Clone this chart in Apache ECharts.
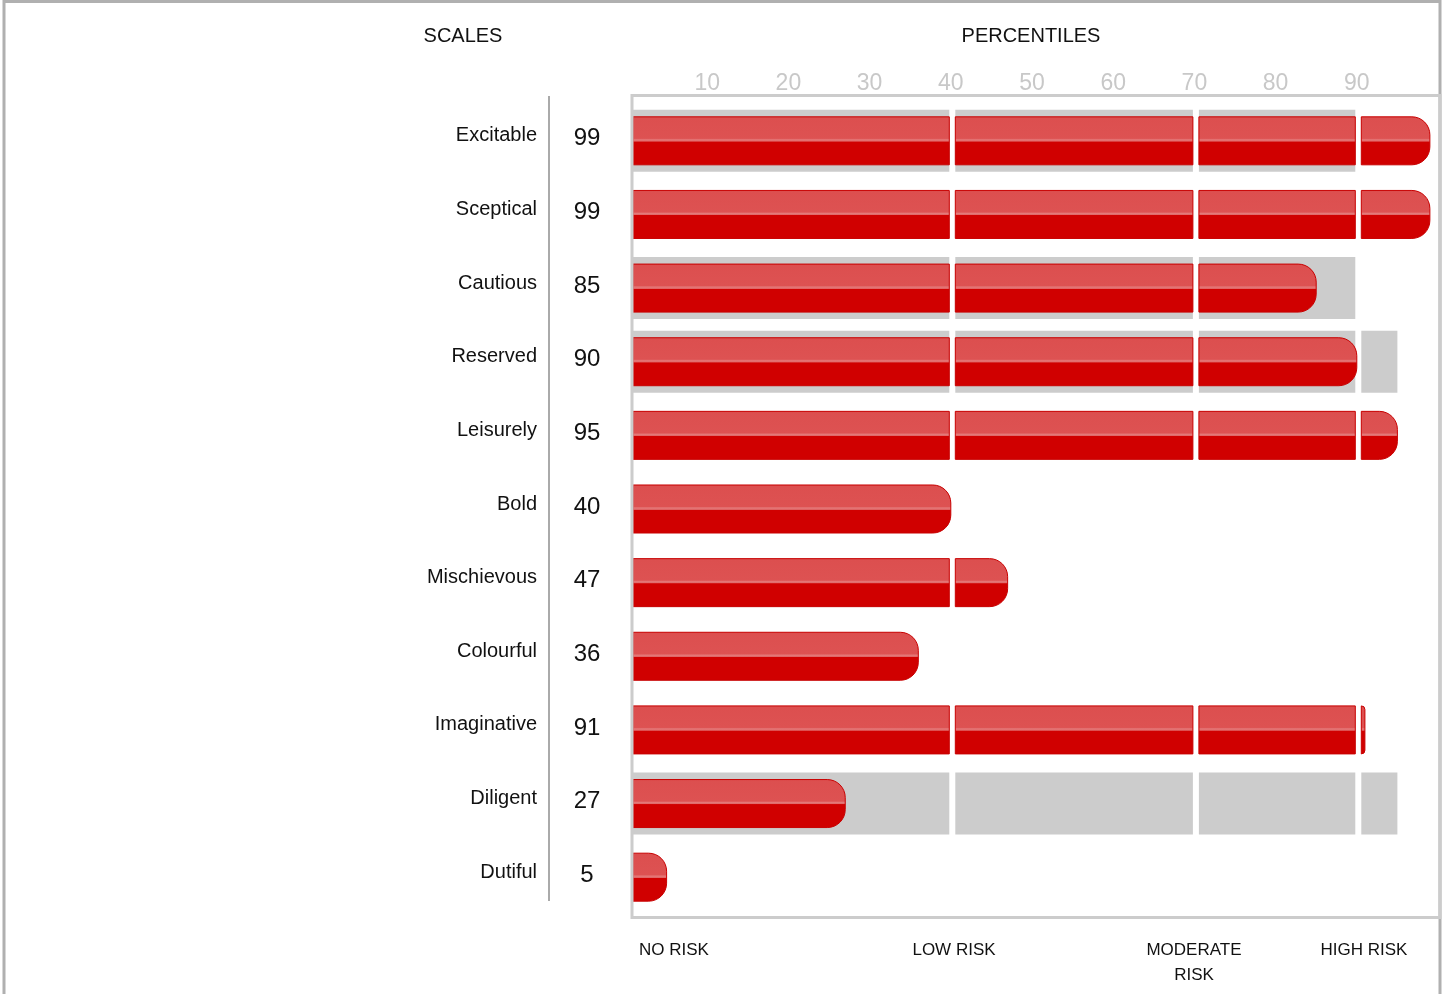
<!DOCTYPE html>
<html>
<head>
<meta charset="utf-8">
<script src="https://cdn.jsdelivr.net/npm/echarts@6/dist/echarts.min.js"></script>
<style>html,body{margin:0;padding:0;background:#fff;}#c{width:1445px;height:994px;}</style>
</head>
<body>
<div id="c"></div>
<script>
const scales = ['Excitable','Sceptical','Cautious','Reserved','Leisurely','Bold','Mischievous','Colourful','Imaginative','Diligent','Dutiful'];
const scores = [99, 99, 85, 90, 95, 40, 47, 36, 91, 27, 5];
const bandEnds = [90, 0, 90, 95, 0, 0, 0, 0, 0, 95, 0];
const riskCuts = [40, 70, 90];
const percentileTicks = [10, 20, 30, 40, 50, 60, 70, 80, 90];
const riskLabels = ['NO RISK', 'LOW RISK', 'MODERATE\nRISK', 'HIGH RISK'];

const FONT = '"Liberation Sans", Arial, Helvetica, sans-serif';
const chart = echarts.init(document.getElementById('c'));

function makeRender(heightRatio, styleFn, rounded) {
  return function (params, api) {
    const v = api.value(0);
    const ci = api.value(1);
    if (!v) return null;
    const start = api.coord([0, ci]);
    const end = api.coord([v, ci]);
    const band = api.size([0, 1])[1];
    const h = band * heightRatio;
    const y = start[1] - h / 2;
    const children = [];
    let segStart = start[0] + 7;
    riskCuts.forEach(function (b) {
      if (v > b) {
        const bx = api.coord([b, ci])[0] + 1.5;
        children.push({ type: 'rect', shape: { x: segStart, y: y, width: bx - 3 - segStart, height: h }, style: styleFn(h) });
        segStart = bx + 3;
      }
    });
    let ex = end[0];
    if (!rounded && riskCuts.indexOf(v) >= 0) ex = end[0] - 1.5;
    const w = Math.max(ex - segStart, 1);
    const r = rounded ? Math.min(18, h / 2) : 0;
    children.push({ type: 'rect', shape: { x: segStart, y: y, width: w, height: h, r: rounded ? [0, r, r, 0] : 0 }, style: styleFn(h) });
    return { type: 'group', children: children };
  };
}

function barStyle() {
  return {
    fill: {
      type: 'linear', x: 0, y: 0, x2: 0, y2: 1, global: false,
      colorStops: [
        { offset: 0, color: '#d94848' },
        { offset: 0.04, color: '#dc4f4f' },
        { offset: 0.45, color: '#dd5252' },
        { offset: 0.48, color: '#e47a7a' },
        { offset: 0.51, color: '#e06464' },
        { offset: 0.52, color: '#d00000' },
        { offset: 1, color: '#d00000' }
      ]
    },
    stroke: '#c80000',
    lineWidth: 1
  };
}
function bandStyle() { return { fill: '#cccccc' }; }

const barData = scores.map((s, i) => [s, i]);
const bandData = bandEnds.map((s, i) => [s, i]);

const graphics = [
  { type: 'rect', z: 100, shape: { x: 4, y: 1.5, width: 1436, height: 1000 }, style: { fill: 'none', stroke: '#b0b0b0', lineWidth: 3 } },
  { type: 'rect', z: 100, shape: { x: 632, y: 95.5, width: 808, height: 822 }, style: { fill: 'none', stroke: '#cccccc', lineWidth: 3 } },
  { type: 'line', z: 100, shape: { x1: 549, y1: 96, x2: 549, y2: 901 }, style: { stroke: '#aaaaaa', lineWidth: 2 } },
  { type: 'text', x: 463, y: 36, style: { text: 'SCALES', align: 'center', verticalAlign: 'middle', fontSize: 20, fontFamily: FONT, fill: '#111' } },
  { type: 'text', x: 1031, y: 36, style: { text: 'PERCENTILES', align: 'center', verticalAlign: 'middle', fontSize: 20, fontFamily: FONT, fill: '#111' } }
];
const riskX = [674, 954, 1194, 1364];
riskLabels.forEach(function (t, i) {
  graphics.push({ type: 'text', x: riskX[i], y: 938, style: { text: t, align: 'center', verticalAlign: 'top', fontSize: 17, lineHeight: 25, fontFamily: FONT, fill: '#111' } });
});

chart.setOption({
  animation: false,
  backgroundColor: '#fff',
  grid: { left: 626, right: 7, top: 104, bottom: 80, containLabel: false, outerBoundsMode: 'none' },
  xAxis: {
    type: 'value', position: 'top', min: 0, max: 100, interval: 10,
    axisLine: { show: false }, axisTick: { show: false }, splitLine: { show: false },
    axisLabel: {
      margin: 9, fontSize: 23, fontFamily: FONT, color: '#c8c8c8',
      formatter: function (v) { return percentileTicks.indexOf(v) >= 0 ? String(v) : ''; }
    }
  },
  yAxis: [
    {
      type: 'category', data: scales, inverse: true,
      axisLine: { show: false }, axisTick: { show: false }, splitLine: { show: false },
      axisLabel: { margin: 89, fontSize: 20, fontFamily: FONT, color: '#111', align: 'right', verticalAlign: 'bottom', lineHeight: 10 }
    },
    {
      type: 'category', data: scores.map(String), inverse: true, position: 'left',
      axisLine: { show: false }, axisTick: { show: false }, splitLine: { show: false },
      axisLabel: { margin: 39, fontSize: 24, fontFamily: FONT, color: '#111', align: 'center', verticalAlign: 'bottom', lineHeight: 4 }
    }
  ],
  series: [
    { type: 'custom', name: 'band', z: 1, yAxisIndex: 0, encode: { x: 0, y: 1 }, data: bandData, renderItem: makeRender(0.842, bandStyle, false), silent: true },
    { type: 'custom', name: 'score', z: 2, yAxisIndex: 0, encode: { x: 0, y: 1 }, data: barData, renderItem: makeRender(0.652, barStyle, true), silent: true }
  ],
  graphic: graphics
});
</script>
</body>
</html>
